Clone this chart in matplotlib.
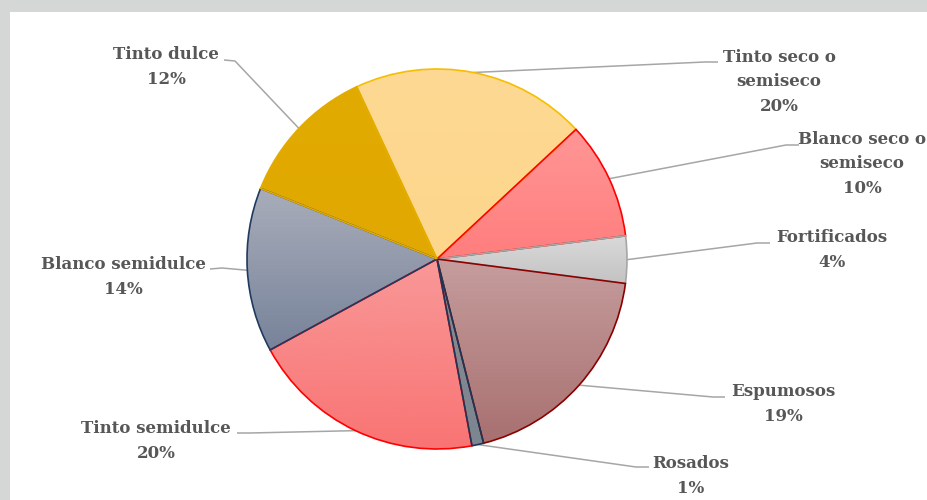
import numpy as np
import matplotlib
matplotlib.use("Agg")
import matplotlib.pyplot as plt
from matplotlib.colors import LinearSegmentedColormap

# Wine category shares (%)
categories = ["Tinto seco o\nsemiseco", "Blanco seco o\nsemiseco", "Fortificados",
              "Espumosos", "Rosados", "Tinto semidulce", "Blanco semidulce", "Tinto dulce"]
shares = [20, 10, 4, 19, 1, 20, 14, 12]

# Gradient (top, bottom) and edge colour per slice
grad_top = ["#FDD993", "#FF9696", "#DADADA", "#C69D9D", "#858C94", "#F99898", "#A9ADBA", "#E2AB00"]
grad_bot = ["#FDD68C", "#FF7D7D", "#C3C3C3", "#A87070", "#7C8690", "#F97474", "#77839A", "#E0A800"]
edges = ["#F7BE00", "#FF0000", "#A6A6A6", "#8B0000", "#1F3556", "#FF0000", "#1F3A5F", "#E2AB00"]

# Label anchors (x, y of text centre; leader end and elbow), in pixel layout units
label_xy = [(779, 82), (862, 164), (832, 250), (783, 404), (691, 476), (156, 441), (123, 277), (166, 67)]
leader_end = [(718, 62), (799, 145), (770, 243), (725, 397), (649, 467), (237, 433), (210, 269), (224, 60)]
leader_elbow = [(705, 62), (786, 145), (757, 243), (713, 397), (636, 467), (250, 433), (222, 268), (235, 61)]

W, H = 927, 500
fig = plt.figure(figsize=(9.27, 5.0), dpi=100, facecolor="#D5D7D7")
ax = fig.add_axes([0, 0, 1, 1])
ax.set_xlim(0, W)
ax.set_ylim(0, H)
ax.set_aspect("equal")
ax.axis("off")

# white panel
ax.add_patch(plt.Rectangle((10, 0), W, H - 12, facecolor="white", edgecolor="none", zorder=0))

cx, cy, R = 437, H - 259, 190
wedges, _ = ax.pie(shares, startangle=115, counterclock=False, center=(cx, cy),
                   radius=R, frame=True,
                   wedgeprops=dict(linewidth=1.2, zorder=3))
ax.set_xlim(0, W)
ax.set_ylim(0, H)
ax.axis("off")

for i, w in enumerate(wedges):
    w.set_facecolor("none")
    w.set_edgecolor(edges[i])
    bb = w.get_path().get_extents(w.get_patch_transform())
    cmap = LinearSegmentedColormap.from_list("g%d" % i, [grad_bot[i], grad_top[i]])
    grad = np.linspace(0, 1, 256).reshape(-1, 1)
    im = ax.imshow(grad, cmap=cmap, origin="lower", aspect="auto",
                   extent=(bb.x0, bb.x1, bb.y0, bb.y1), zorder=2, interpolation="bilinear")
    im.set_clip_path(w)

# Rosados drawn on top so its thin outline stays visible
wedges[4].set_zorder(4)

txt_color = "#575757"
for i, w in enumerate(wedges):
    mid = np.deg2rad((w.theta1 + w.theta2) / 2)
    px, py = cx + R * np.cos(mid), cy + R * np.sin(mid)
    ex, ey = leader_elbow[i]
    lx, ly = leader_end[i]
    ax.plot([px, ex, lx], [py, H - ey, H - ly], color="#A6A6A6", lw=1.1, zorder=1,
            solid_capstyle="butt")
    tx, ty = label_xy[i]
    ax.text(tx, H - ty, "%s\n%d%%" % (categories[i], shares[i]), ha="center", va="center",
            multialignment="center", fontsize=12, fontweight="bold", family="DejaVu Serif",
            color=txt_color, linespacing=1.55, zorder=5)

fig.savefig("out.png", dpi=100, facecolor=fig.get_facecolor())
